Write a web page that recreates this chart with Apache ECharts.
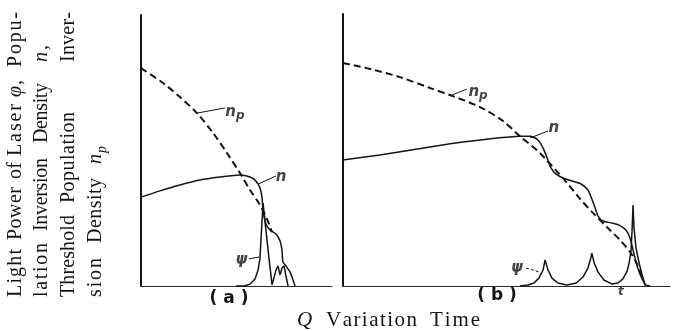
<!DOCTYPE html>
<html>
<head>
<meta charset="utf-8">
<script src="https://cdn.jsdelivr.net/npm/echarts@6/dist/echarts.min.js"></script>
<style>
  html, body { margin: 0; padding: 0; background: #fff; }
  #chart { width: 675px; height: 331px; }
</style>
</head>
<body>
<div id="chart"></div>
<script>
// ---- curves, in panel units (time 0..100, level 0..100) ----
// (a) fast Q switching
const thresholdA = [[0, 80.4], [11.5, 74.9], [20.4, 69.7], [29.3, 63.8], [37.7, 56.5], [45.0, 49.1],
  [51.8, 41.7], [57.1, 35.4], [62.3, 29.9], [66.0, 24.7], [68.6, 19.9]];
const inversionA = [[0, 32.8], [9.9, 35.1], [20.4, 37.3], [30.9, 39.1], [41.4, 40.2], [51.8, 41.0],
  [57.1, 40.2], [60.2, 38.7], [62.3, 36.2], [63.4, 32.5], [63.9, 28.0], [65.4, 22.9], [67.5, 20.7],
  [70.7, 19.2], [72.8, 16.6], [73.8, 13.3], [74.3, 8.9], [75.9, 7.4], [78.0, 5.2], [79.6, 2.2], [80.6, 0]];
const powerA = [[49.7, 0], [53.9, 0], [57.1, 0.7], [59.7, 2.6], [61.3, 5.9], [62.3, 10.3], [62.8, 17.0],
  [63.4, 24.4], [63.9, 30.6], [65.4, 20.7], [67.0, 10.3], [68.6, 0.4], [69.6, 0.4], [70.7, 5.9],
  [71.7, 7.4], [72.8, 4.1], [73.8, 6.6], [74.9, 7.4], [75.9, 3.7], [77.0, 0]];

// (b) slow Q switching
const thresholdB = [[0, 82.0], [8.3, 79.8], [17.4, 76.8], [26.6, 72.8], [32.7, 70.2], [41.9, 65.8],
  [48.9, 60.7], [54.1, 55.1], [60.2, 48.9], [68.5, 37.9], [72.5, 32.0], [76.5, 26.8], [80.7, 21.7],
  [84.7, 16.9], [87.8, 12.5], [89.9, 8.1], [91.7, 2.2]];
const inversionB = [[0, 46.3], [11.3, 48.2], [26.6, 51.1], [36.7, 52.9], [47.1, 54.4], [54.1, 55.1],
  [57.2, 55.1], [59.6, 53.7], [61.2, 50.7], [62.4, 47.1], [63.6, 43.4], [65.1, 41.2], [67.3, 39.7],
  [70.0, 38.6], [72.8, 37.5], [74.9, 35.3], [76.1, 32.0], [77.1, 28.7], [78.0, 25.7], [79.5, 23.9],
  [82.0, 23.2], [84.4, 22.4], [86.5, 20.6], [87.8, 17.6], [88.7, 13.2], [89.6, 8.8], [90.8, 4.4], [92.4, 0.4]];
const powerB = [[54.1, 0], [56.6, 0.4], [58.4, 1.1], [59.9, 2.9], [61.2, 5.9], [61.8, 9.6], [62.7, 5.9],
  [63.9, 2.9], [65.7, 1.1], [68.5, 0.4], [71.3, 1.1], [73.4, 3.3], [74.9, 6.6], [75.8, 10.3], [76.1, 12.1],
  [76.8, 8.5], [78.0, 5.1], [79.8, 2.2], [82.3, 0.7], [84.1, 1.1], [85.6, 2.6], [86.9, 5.5], [87.5, 8.5],
  [88.1, 13.2], [88.4, 20.6], [88.7, 29.8], [89.0, 21.3], [89.6, 14.0], [90.5, 8.8], [91.4, 4.4],
  [92.4, 0.4], [93.9, 0]];

// ---- curve tags with their leader strokes ----
const notesA = [
  { tag: 'np', pos: [49.2, 64.2], lead: [[29.3, 63.8], [44.0, 65.7]] },
  { tag: 'n', pos: [73.3, 40.2], lead: [[61.3, 37.6], [70.7, 40.6]] },
  { tag: 'psi', pos: [52.6, 9.6], lead: [[56.5, 10.0], [61.8, 10.7]] }
];
const notesB = [
  { tag: 'np', pos: [41.3, 71.3], lead: [[32.7, 69.9], [37.9, 72.4]] },
  { tag: 'n', pos: [64.5, 58.1], lead: [[57.2, 54.4], [62.7, 57.0]] },
  { tag: 'psi', pos: [53.2, 6.6], lead: [[56.0, 6.6], [60.2, 5.1]], dotted: true },
  { tag: 't', pos: [85.0, -2.2] }
];
const tagText = { np: '{n|n}{p|p}', n: '{n|n}', psi: '{n|ψ}', t: '{t|t}' };

// ---- text around the plot ----
const SERIF = '"Liberation Serif", "DejaVu Serif", serif';
const INK = '#141414';
// vertical title, read upward; each word: [text or fragments, bottom, top]
const yTitleRows = [
  { x: 16, words: [['Light', 297, 249], ['Power', 240, 187], ['of', 179, 162], ['Laser', 156, 104],
    [[['φ', 'i'], [',', '']], 97, 80], ['Popu-', 67, 12]] },
  { x: 42, words: [['lation', 297, 243], ['Inversion', 231, 158], ['Density', 143, 83],
    [[['n', 'i'], [',', '']], 62, 45]] },
  { x: 69, words: [['Threshold', 297, 215], ['Population', 203, 112], ['Inver-', 62, 12]] },
  { x: 96, words: [['sion', 297, 258], ['Density', 243, 178], [[['n', 'i'], ['p', 's']], 164, 146]] }
];
const xTitle = { y: 320, words: [[[['Q', 'i']], 297, 311], ['Variation', 326, 417], ['Time', 430, 480]] };

const measure = document.createElement('canvas').getContext('2d');
function fontFor(style, size) {
  const italic = style.includes('i') || style.includes('s');
  const sz = style.includes('s') ? Math.round(size * 0.72) : size;
  return (italic ? 'italic ' : '') + sz + 'px ' + SERIF;
}
// spread the glyphs of one word evenly between two positions
function spreadWord(word, from, to, cross, vertical, size) {
  const frags = typeof word === 'string' ? [[word, '']] : word;
  const glyphs = [];
  frags.forEach(([t, st]) => {
    for (const ch of t) {
      const font = fontFor(st || '', size);
      measure.font = font;
      glyphs.push({ ch, font, w: measure.measureText(ch).width, sub: (st || '').includes('s') });
    }
  });
  const natural = glyphs.reduce((s, g) => s + g.w, 0);
  const gap = glyphs.length > 1 ? Math.max(-0.5, (Math.abs(to - from) - natural) / (glyphs.length - 1)) : 0;
  let off = 0;
  return glyphs.map(g => {
    const shift = g.sub ? size * 0.3 : 0;
    const el = {
      type: 'text', silent: true,
      x: vertical ? cross + shift : from + off,
      y: vertical ? from - off : cross + shift,
      rotation: vertical ? Math.PI / 2 : 0,
      style: { text: g.ch, font: g.font, fill: INK, align: 'left', verticalAlign: 'middle' }
    };
    off += g.w + gap;
    return el;
  });
}

const graphics = [];
yTitleRows.forEach(row => row.words.forEach(([w, a, b]) =>
  graphics.push(...spreadWord(w, a, b, row.x, true, 20))));
xTitle.words.forEach(([w, a, b]) => graphics.push(...spreadWord(w, a, b, xTitle.y, false, 21)));
graphics.push(
  { type: 'text', silent: true, x: 229, y: 299,
    style: { text: '( a )', font: 'bold 17px "DejaVu Sans"', fill: INK, align: 'center', verticalAlign: 'middle' } },
  { type: 'text', silent: true, x: 497, y: 296,
    style: { text: '( b )', font: 'bold 17px "DejaVu Sans"', fill: INK, align: 'center', verticalAlign: 'middle' } }
);

// ---- chart ----
const axisX = g => ({
  type: 'value', gridIndex: g, min: 0, max: 100,
  axisLine: { show: true, onZero: false, lineStyle: { color: '#2a2a2a', width: 1.2 } },
  axisTick: { show: false }, axisLabel: { show: false }, splitLine: { show: false }
});
const axisY = g => ({
  type: 'value', gridIndex: g, min: 0, max: 100,
  axisLine: { show: true, onZero: false, lineStyle: { color: INK, width: 2 } },
  axisTick: { show: false }, axisLabel: { show: false }, splitLine: { show: false }
});

function curve(data, g, extra) {
  return Object.assign({
    type: 'line', xAxisIndex: g, yAxisIndex: g, data, symbol: 'none', silent: true, clip: false,
    lineStyle: { color: INK, width: 1.5 }, z: 3
  }, extra || {});
}
const dashed = { smooth: 0.3, lineStyle: { color: INK, width: 2, type: [7, 4] } };

function noteSeries(notes, g) {
  const out = [];
  notes.forEach(nt => {
    if (nt.lead) out.push(curve(nt.lead, g, {
      lineStyle: { color: INK, width: 1, type: nt.dotted ? [3, 2] : 'solid' }
    }));
  });
  out.push({
    type: 'scatter', xAxisIndex: g, yAxisIndex: g, symbolSize: 1, silent: true, clip: false,
    itemStyle: { color: 'rgba(0,0,0,0)' },
    data: notes.map(nt => ({ value: nt.pos, label: { formatter: tagText[nt.tag] } })),
    label: {
      show: true, position: 'inside', color: INK,
      rich: {
        n: { fontFamily: 'DejaVu Sans', fontStyle: 'italic', fontWeight: 'bold', fontSize: 15, color: INK },
        p: { fontFamily: 'DejaVu Sans', fontStyle: 'italic', fontWeight: 'bold', fontSize: 12, color: INK, padding: [7, 0, 0, 0] },
        t: { fontFamily: 'DejaVu Sans', fontStyle: 'italic', fontWeight: 'bold', fontSize: 12, color: INK }
      }
    }
  });
  return out;
}

const chart = echarts.init(document.getElementById('chart'));
chart.setOption({
  animation: false,
  backgroundColor: '#fff',
  grid: [
    { left: 141, top: 15, width: 191, height: 271 },
    { left: 343, top: 14, width: 327, height: 272 }
  ],
  xAxis: [axisX(0), axisX(1)],
  yAxis: [axisY(0), axisY(1)],
  series: [
    curve(thresholdA, 0, dashed),
    curve(inversionA, 0, { smooth: 0.2 }),
    curve(powerA, 0),
    curve(thresholdB, 1, dashed),
    curve(inversionB, 1, { smooth: 0.25 }),
    curve(powerB, 1),
    ...noteSeries(notesA, 0),
    ...noteSeries(notesB, 1)
  ],
  graphic: graphics
});
</script>
</body>
</html>
